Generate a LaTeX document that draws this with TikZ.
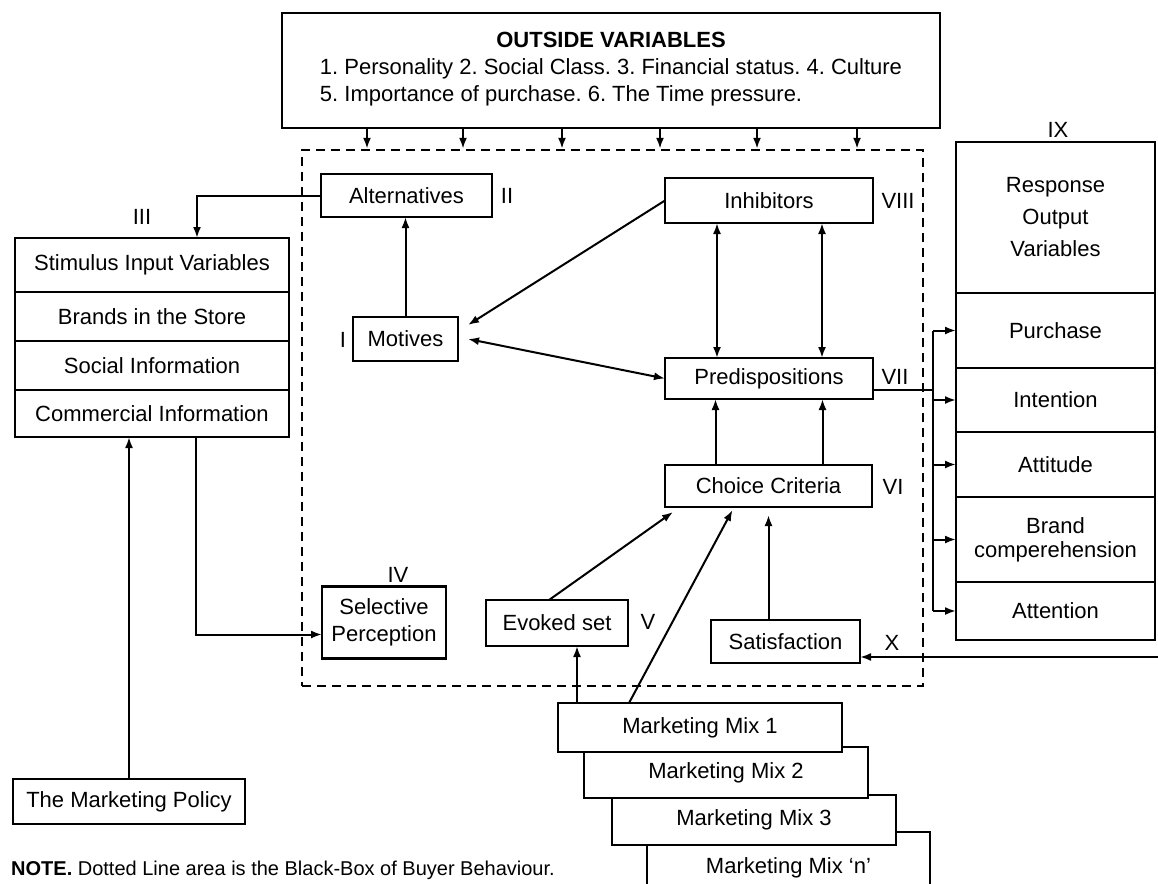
\documentclass[tikz,border=0pt]{standalone}
\usepackage{fontspec}
\setmainfont{Liberation Sans}
\usetikzlibrary{arrows.meta,positioning}
\newcommand{\diagfont}{\fontsize{22}{27}\selectfont\frenchspacing}
\begin{document}
\begin{tikzpicture}[x=1pt,y=-1pt]
    \tikzset{box/.style = {draw, line width=2.2pt, fill=white, inner sep=1pt, outer sep=0pt, align=center, font=\diagfont}}
    \tikzset{tag/.style = {font=\diagfont, inner sep=0pt}}
    \tikzset{arr/.style = {line width=2pt, -{Latex[length=11pt,width=8pt]}}}
    \tikzset{dbl/.style = {line width=2pt, {Latex[length=11pt,width=8pt]}-{Latex[length=11pt,width=8pt]}}}
    \useasboundingbox (0,0) rectangle (1158,883);
    % outside variables and the black box
    \node[box, minimum width=658pt, minimum height=115pt] (ov) at (611,70.5) {\textbf{OUTSIDE VARIABLES}\\
        \begin{tabular}[t]{@{}l@{}}1. Personality 2. Social Class. 3. Financial status. 4. Culture\\5. Importance of purchase. 6. The Time pressure.\end{tabular}};
    \node[draw, dashed, dash pattern=on 9pt off 6pt, line width=2.4pt, minimum width=621pt, minimum height=536pt] (bb) at (612.5,418) {};
    \foreach \x in {367,463,562,660,757,857} {
        \coordinate (c) at (\x,0);
        \draw[arr] (ov.south -| c) -- (bb.north -| c);
    }
    % inside the black box
    \node[box, minimum width=171pt, minimum height=43pt] (alt) at (406.5,195.5) {Alternatives};
    \node[box, minimum width=208pt, minimum height=45pt] (inh) at (769,200.5) {Inhibitors};
    \node[box, minimum width=105pt, minimum height=44pt] (mot) at (405.5,339) {Motives};
    \node[box, minimum width=208pt, minimum height=41pt] (pre) at (769,378.5) {Predispositions};
    \node[box, minimum width=207pt, minimum height=42pt] (cho) at (768.5,486) {Choice Criteria};
    \node[box, minimum width=124pt, minimum height=72pt] (sel) at (384,622.5) {Selective\\Perception};
    \node[box, minimum width=142pt, minimum height=46pt] (evo) at (557,623) {Evoked set};
    \node[box, minimum width=149pt, minimum height=43pt] (sat) at (785.5,641.5) {Satisfaction};
    \node[tag] (l2) at (507,196) {II};
    \node[tag] (l8) at (898,201) {VIII};
    \node[tag] (l1) at (343,340) {I};
    \node[tag] (l7) at (895,377) {VII};
    \node[tag] (l6) at (893,487) {VI};
    \node[tag] (l4) at (398,575) {IV};
    \node[tag] (l5) at (648,622) {V};
    \node[tag] (l10) at (892,643) {X};
    % stimulus input variables
    \node[tag] (l3) at (142,217) {III};
    \node[box, minimum width=274pt, minimum height=54pt] (sti) at (152,265) {Stimulus Input Variables};
    \node[box, minimum width=274pt, minimum height=49pt, below=0pt of sti] (bra) {Brands in the Store};
    \node[box, minimum width=274pt, minimum height=49pt, below=0pt of bra] (soc) {Social Information};
    \node[box, minimum width=274pt, minimum height=47pt, below=0pt of soc] (com) {Commercial Information};
    \node[box, minimum width=232pt, minimum height=45pt] (pol) at (129,801.5) {The Marketing Policy};
    % response output variables
    \node[tag] (l9) at (1058,130) {IX};
    \node[box, minimum width=199pt, minimum height=151pt, font=\fontsize{22}{32}\selectfont] (resp) at (1055.5,217.5) {Response\\Output\\Variables};
    \node[box, minimum width=199pt, minimum height=75pt, below=0pt of resp] (pur) {Purchase};
    \node[box, minimum width=199pt, minimum height=64pt, below=0pt of pur] (int) {Intention};
    \node[box, minimum width=199pt, minimum height=65pt, below=0pt of int] (att) {Attitude};
    \node[box, minimum width=199pt, minimum height=85pt, below=0pt of att, font=\fontsize{22}{24}\selectfont] (brd) {Brand\\comperehension};
    \node[box, minimum width=199pt, minimum height=58pt, below=0pt of brd] (atn) {Attention};
    % marketing mix stack
    \node[box, minimum width=283pt, minimum height=72pt] (mmn) at (788.5,868) {Marketing Mix `n'};
    \node[box, minimum width=284pt, minimum height=50pt] (mm3) at (754,820) {Marketing Mix 3};
    \node[box, minimum width=284pt, minimum height=51pt] (mm2) at (726,772.5) {Marketing Mix 2};
    \node[box, minimum width=284pt, minimum height=49pt] (mm1) at (700,727.5) {Marketing Mix 1};
    % note
    \node[tag, anchor=west, font=\fontsize{20}{24}\selectfont] (note) at (11,870) {\textbf{NOTE.} Dotted Line area is the Black-Box of Buyer Behaviour.};
    % connectors
    \draw[arr] (alt.west) -| ([xshift=45pt]sti.north);
    \draw[arr] (mot.north) -- (mot.north |- alt.south);
    \draw[arr] (inh.west) -- ([xshift=10pt,yshift=-8pt]mot.north east);
    \draw[dbl] ([xshift=10pt]mot.east) -- (pre.west);
    \draw[dbl] ([xshift=-52pt]inh.south) -- ([xshift=-52pt]pre.north);
    \draw[dbl] ([xshift=53pt]inh.south) -- ([xshift=53pt]pre.north);
    \draw[arr] ([xshift=-53pt]cho.north) -- ([xshift=-53pt]cho.north |- pre.south);
    \draw[arr] ([xshift=54pt]cho.north) -- ([xshift=54pt]cho.north |- pre.south);
    \draw[arr] ([xshift=-8pt]evo.north) -- ([xshift=8pt,yshift=-5pt]cho.south west);
    \draw[arr, shorten >=8pt] (sat.north -| cho.south) -- (cho.south);
    \draw[arr] ([xshift=-123pt]mm1.north) -- ([xshift=-123pt]mm1.north |- evo.south);
    \draw[arr] ([xshift=-71pt]mm1.north) -- ([xshift=-36pt,yshift=-3pt]cho.south);
    \draw[arr] ([xshift=44pt]com.south) |- ([yshift=-12pt]sel.west);
    \draw[arr] (pol.north) -- (pol.north |- com.south);
    \coordinate (xin) at (1160,657);
    \draw[arr] (xin) -- (sat.east |- xin);
    % bus into the response variables
    \coordinate (bus) at (933,0);
    \draw[line width=2pt] ([yshift=-11pt]pre.east) -- ([yshift=-11pt]pre.east -| bus);
    \draw[line width=2pt] (bus |- pur.west) -- (bus |- atn.west);
    \foreach \r in {pur,int,att,brd,atn}
        \draw[arr] (bus |- \r.west) -- (\r.west);
\end{tikzpicture}
\end{document}
